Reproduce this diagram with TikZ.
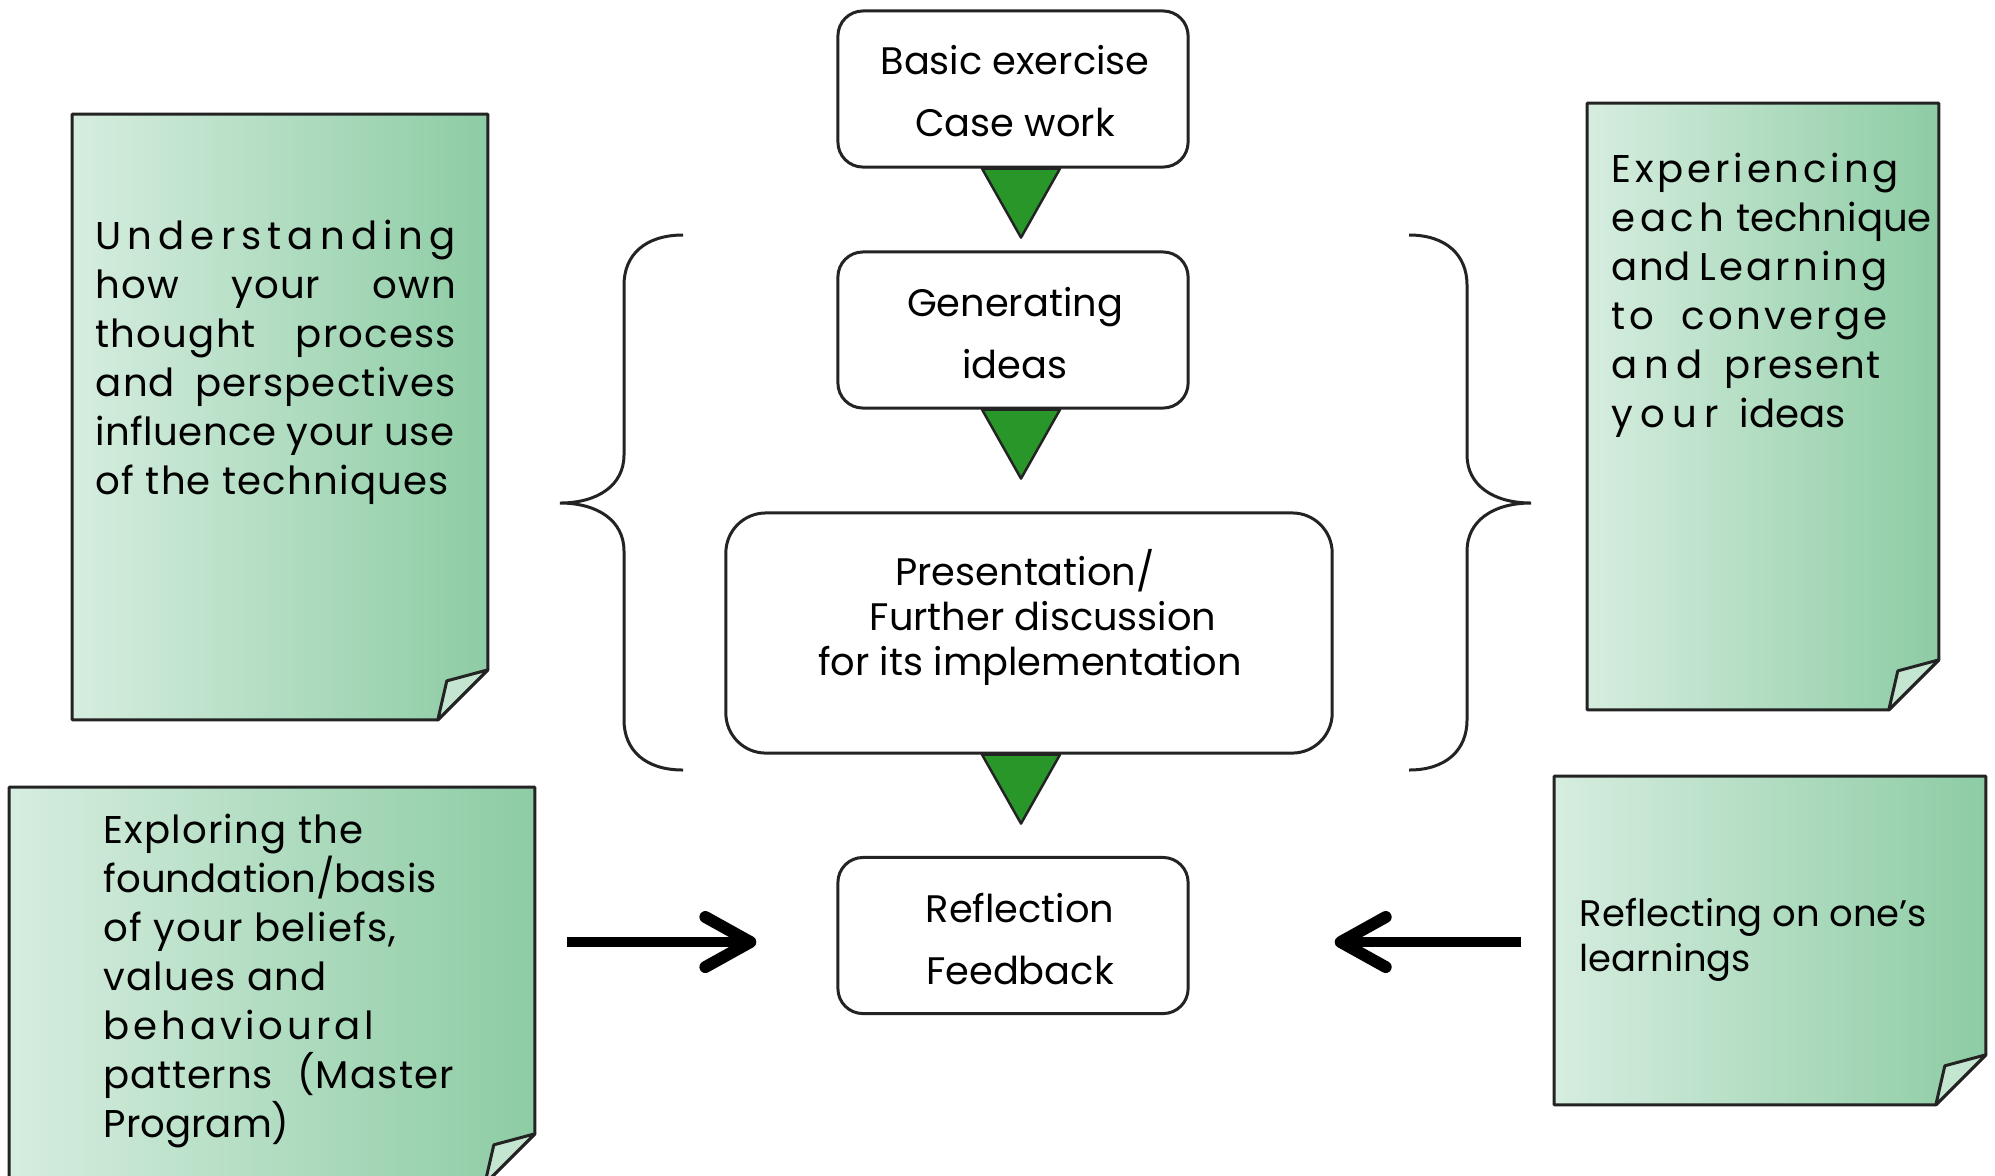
\documentclass[tikz,border=0pt]{standalone}
\usepackage{fontspec}
\setmainfont{Poppins}
\usetikzlibrary{arrows.meta}
\definecolor{noteL}{RGB}{214,237,223}
\definecolor{noteR}{RGB}{141,204,164}
\definecolor{flapc}{RGB}{196,230,208}
\definecolor{trig}{RGB}{40,150,40}
\definecolor{edge}{RGB}{35,35,35}
% spread the letters of one word over a given width
\def\spr#1#2{\hbox to #1{\sprA#2\relax}}
\def\sprA#1{#1\sprB}
\def\sprB#1{\ifx#1\relax\else\hfil#1\expandafter\sprB\fi}
\newcommand\stk[1]{\vtop{\lineskiplimit=-100pt\relax #1}}
\newcommand\cl[1]{\hbox to 0pt{\hss#1\hss}}
\tikzset{
 cbox/.style={draw=edge, line width=0.85pt, rounded corners=0.25cm, fill=white, minimum width=3.5cm, minimum height=1.56cm, inner sep=0pt},
 ctext/.style={anchor=base, inner sep=0pt, font=\fontsize{10.9}{17.9}\selectfont},
 paperbox/.style={inner sep=0pt},
 notefill/.style={left color=noteL, right color=noteR, draw=edge, line width=0.85pt, line join=round},
 flap/.style={fill=flapc, draw=edge, line width=0.85pt, line join=round},
 tri/.style={fill=trig, draw=edge, line width=0.7pt, line join=round},
 brace/.style={draw=edge, line width=0.85pt},
 bigarrow/.style={draw=black, line width=2.8pt, -{Straight Barb[length=4.5mm,width=5mm,line width=3.4pt,round]}},
 ntext/.style={anchor=base west, inner sep=0pt, font=\fontsize{11}{13.94}\selectfont\addfontfeature{LetterSpace=3}},
}
\newcommand\paper[1]{%
 \shade[notefill] (#1.north west) -- (#1.north east) -- ([yshift=0.5cm]#1.south east) -- ([xshift=-0.5cm]#1.south east) -- (#1.south west) -- cycle;
 \draw[flap] ([yshift=0.5cm]#1.south east) -- ([xshift=-0.41cm,yshift=0.39cm]#1.south east) -- ([xshift=-0.5cm]#1.south east) -- cycle;}
\newcommand\tria[1]{%
 \draw[tri] ([xshift=-0.39cm]#1) -- ([xshift=0.39cm]#1) -- ([yshift=-0.69cm]#1) -- cycle;}
\begin{document}
\begin{tikzpicture}[x=0.01cm,y=-0.01cm]
\clip (0,0) rectangle (1995,1175);
\fill[white] (0,0) rectangle (1995,1175);
% sticky notes
\node[paperbox, minimum width=4.14cm, minimum height=6.04cm] (n1) at (280,417) {};
\node[paperbox, minimum width=3.50cm, minimum height=6.05cm] (n2) at (1763,406.5) {};
\node[paperbox, minimum width=5.24cm, minimum height=3.95cm] (n3) at (272,985.5) {};
\node[paperbox, minimum width=4.30cm, minimum height=3.27cm] (n4) at (1770,940.5) {};
\paper{n1}\paper{n2}\paper{n3}\paper{n4}
% note texts
\node[ntext] (t1) at (95,249) {\stk{%
 \spr{3.60cm}{Understanding}
 \hbox to 3.60cm{how\hfil your\hfil own}
 \hbox to 3.60cm{thought\hfil process}
 \hbox to 3.60cm{and\hfil perspectives}
 \hbox{\addfontfeature{LetterSpace=1}influence your use}
 \hbox{of the techniques}}};
\node[ntext] (t2) at (1611,182) {\stk{%
 \spr{2.87cm}{Experiencing}
 \hbox to 3.20cm{\spr{1.12cm}{each}\hfil{\addfontfeature{LetterSpace=0}technique}}
 \hbox to 2.76cm{and\hfil\spr{1.88cm}{Learning}}
 \hbox to 2.76cm{\spr{0.43cm}{to}\hfil\spr{2.06cm}{converge}}
 \hbox to 2.69cm{\spr{0.91cm}{and}\hfil\spr{1.56cm}{present}}
 \hbox to 2.30cm{\spr{1.07cm}{your}\hfil\spr{1.02cm}{ideas}}}};
\node[ntext] (t3) at (103,843) {\stk{%
 \hbox{Exploring the}
 \hbox{\addfontfeature{LetterSpace=0}foundation/basis}
 \hbox{of your beliefs,}
 \hbox{values and}
 \spr{2.70cm}{behavioural}
 \hbox to 3.50cm{\spr{1.69cm}{patterns}\hfil(Master}
 \hbox{\addfontfeature{LetterSpace=0}Program)}}};
\node[anchor=base west, inner sep=0pt, font=\fontsize{10.5}{12.8}\selectfont] (t4) at (1579,926) {\stk{%
 \hbox{Reflecting on one’s}
 \hbox{learnings}}};
% braces
\draw[brace] (683,235) .. controls (645,235) and (624,255) .. (624,285) -- (624,455)
  .. controls (624,485) and (598,503) .. (560,503)
  .. controls (598,503) and (624,521) .. (624,551) -- (624,720)
  .. controls (624,750) and (645,770) .. (683,770);
\draw[brace] (1409,235) .. controls (1446,235) and (1467,255) .. (1467,285) -- (1467,455)
  .. controls (1467,485) and (1493,503) .. (1531,503)
  .. controls (1493,503) and (1467,521) .. (1467,551) -- (1467,720)
  .. controls (1467,750) and (1446,770) .. (1409,770);
% process boxes
\node[cbox] (basic) at (1013,89) {};
\node[cbox] (gen) at (1013,330) {};
\node[cbox, minimum width=6.06cm, minimum height=2.40cm, rounded corners=0.4cm] (pres) at (1029,633) {};
\node[cbox] (refl) at (1013,935.5) {};
\node[ctext] (basict) at (1015,74) {\stk{\cl{Basic exercise}\cl{Case work}}};
\node[ctext] (gent) at (1015,316) {\stk{\cl{Generating}\cl{ideas}}};
\node[ctext, font=\fontsize{10.9}{12.9}\selectfont] (prest) at (1030,585) {\stk{\cl{\hskip-0.1cm Presentation/}\cl{\hskip0.26cm Further discussion}\cl{for its implementation}}};
\node[ctext] (reflt) at (1020,922) {\stk{\cl{Reflection}\cl{Feedback}}};
% green triangles
\coordinate (ax) at (1021,0);
\coordinate (s1) at (ax |- basic.south);
\coordinate (s2) at (ax |- gen.south);
\coordinate (s3) at (ax |- pres.south);
\tria{s1}\tria{s2}\tria{s3}
% arrows into reflection
\coordinate (la) at (n3.east |- refl.west);
\coordinate (ra) at (n4.west |- refl.east);
\draw[bigarrow] ([xshift=0.32cm,yshift=-0.065cm]la) -- ([xshift=-0.80cm,yshift=-0.065cm]refl.west);
\draw[bigarrow] ([xshift=-0.33cm,yshift=-0.065cm]ra) -- ([xshift=1.45cm,yshift=-0.065cm]refl.east);
\end{tikzpicture}
\end{document}
